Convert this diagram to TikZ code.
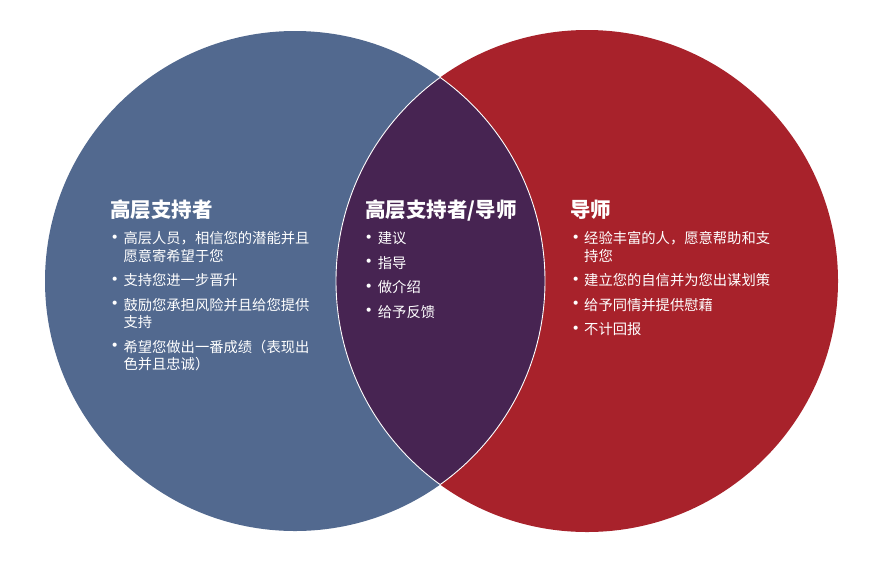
\documentclass[tikz,border=0pt]{standalone}
\usepackage{fontspec}
\setmainfont{Noto Sans CJK SC}
\definecolor{vennblue}{HTML}{52698F}
\definecolor{vennred}{HTML}{A8222B}
\definecolor{vennpurple}{HTML}{472452}
\newcommand{\vbul}{\makebox[6pt][c]{\raisebox{-0.6pt}{\scalebox{1.35}{•}}}}

\begin{document}
\begin{tikzpicture}[
        x=1pt, y=-1pt,
        ttl/.style={anchor=base west, inner sep=0pt, text=white,
                    font=\fontsize{20.5}{24}\selectfont\bfseries},
        lst/.style={anchor=base west, inner sep=0pt, text=white,
                    font=\fontsize{14.3}{17.5}\selectfont},
        rim/.style={draw=white, line width=0.9pt},
    ]
        \useasboundingbox (0,0) rectangle (880,574);
        % Two overlapping circles.
        \fill[vennblue] (295,281) circle[radius=250pt];
        \fill[vennred]  (587,281) circle[radius=251pt];
        % Overlap with white rim.
        \begin{scope}
            \clip (295,281) circle[radius=250pt];
            \fill[vennpurple] (587,281) circle[radius=251pt];
            \draw[rim] (587,281) circle[radius=251pt];
        \end{scope}
        \begin{scope}
            \clip (587,281) circle[radius=251pt];
            \draw[rim] (295,281) circle[radius=250pt];
        \end{scope}
        % Left set.
        \node[ttl] (sponsor) at (110,217) {高层支持者};
        \node[lst] (sponsorlist) at (111.8,243.5) {%
            \begin{tabular}[t]{@{}l@{\hspace{5.5pt}}l@{}}
            \vbul & 高层人员，相信您的潜能并且\\
                  & 愿意寄希望于您\\[7pt]
            \vbul & 支持您进一步晋升\\[7pt]
            \vbul & 鼓励您承担风险并且给您提供\\
                  & 支持\\[7pt]
            \vbul & 希望您做出一番成绩（表现出\\
                  & 色并且忠诚）
            \end{tabular}};
        % Overlap.
        \node[ttl] (both) at (365,217) {高层支持者/导师};
        \node[lst] (bothlist) at (366.2,243.5) {%
            \begin{tabular}[t]{@{}l@{\hspace{5.5pt}}l@{}}
            \vbul & 建议\\[7pt]
            \vbul & 指导\\[7pt]
            \vbul & 做介绍\\[7pt]
            \vbul & 给予反馈
            \end{tabular}};
        % Right set.
        \node[ttl] (mentor) at (570,217) {导师};
        \node[lst] (mentorlist) at (572.5,243.5) {%
            \begin{tabular}[t]{@{}l@{\hspace{5.5pt}}l@{}}
            \vbul & 经验丰富的人，愿意帮助和支\\
                  & 持您\\[7pt]
            \vbul & 建立您的自信并为您出谋划策\\[7pt]
            \vbul & 给予同情并提供慰藉\\[7pt]
            \vbul & 不计回报
            \end{tabular}};
    \end{tikzpicture}
\end{document}
